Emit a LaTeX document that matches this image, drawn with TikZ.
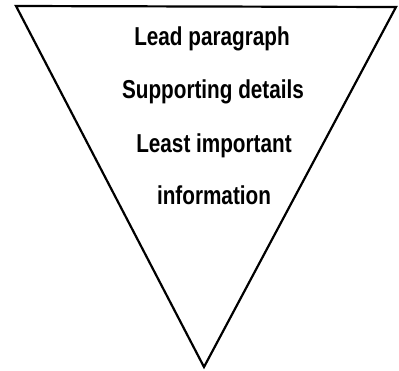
\documentclass[tikz,border=0pt]{standalone}
\usepackage{fontspec}
\setmainfont{Liberation Sans}[FakeStretch=0.8]
\usetikzlibrary{positioning}

\begin{document}
\begin{tikzpicture}[x=1bp, y=-1bp,
		layerText/.style={font=\bfseries\fontsize{26}{29}\selectfont, anchor=base, inner sep=0pt}]
	\definecolor{pyramidColour}{RGB}{0, 0, 0}

	\useasboundingbox (0, 0) rectangle (399, 371);

	\draw[color=pyramidColour, line width=2.2bp, line join=miter] (16, 6) -- (396, 7) -- (204, 367) -- cycle;

	\node[layerText] (lead) at (212, 45) {Lead paragraph};
	\node[layerText] (support) at (213, 98) {Supporting details};
	\node[layerText] (least) at (214, 152) {Least important};
	\node[layerText] (info) at (214, 204) {information};
\end{tikzpicture}
\end{document}
